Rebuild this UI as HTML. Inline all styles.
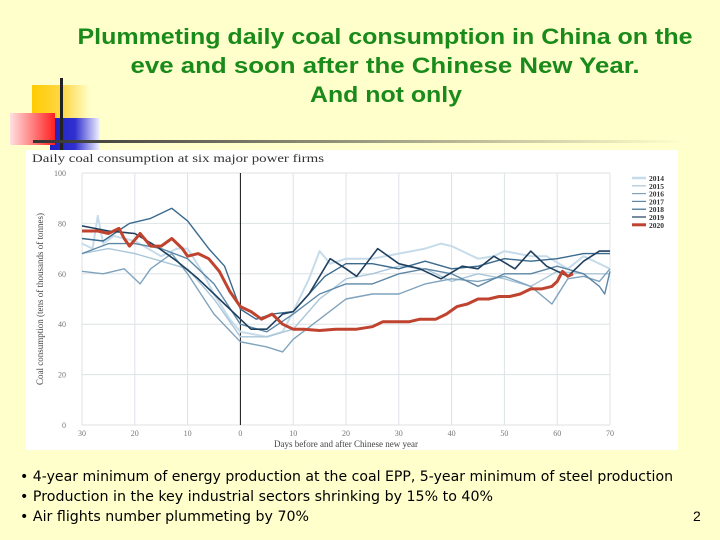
<!DOCTYPE html>
<html><head><meta charset="utf-8"><style>
html,body{margin:0;padding:0;background:#ffffcc;}
svg{display:block;font-family:"Liberation Sans",sans-serif;}
</style></head><body>
<svg id="slide" width="720" height="540" viewBox="0 0 720 540" xmlns="http://www.w3.org/2000/svg">
<defs>
<linearGradient id="gy" x1="0" x2="1"><stop offset="0" stop-color="#ffcc00"/><stop offset="0.55" stop-color="#ffd84a"/><stop offset="1" stop-color="#ffffcc"/></linearGradient>
<linearGradient id="gr" x1="0" x2="1"><stop offset="0" stop-color="#ffe0e0"/><stop offset="1" stop-color="#ff2020"/></linearGradient>
<linearGradient id="gb" x1="0" x2="1"><stop offset="0" stop-color="#2020c0"/><stop offset="0.5" stop-color="#3030d0"/><stop offset="1" stop-color="#f4f4ff"/></linearGradient>
<linearGradient id="gl" x1="0" x2="1"><stop offset="0" stop-color="#333"/><stop offset="1" stop-color="#ffffcc"/></linearGradient>
</defs>
<rect width="720" height="540" fill="#ffffcc"/>
<g fill="#1a8a1a" font-weight="bold" font-size="22" font-family="'Liberation Sans','DejaVu Sans',sans-serif" text-anchor="middle">
<text x="385" y="44" textLength="615" lengthAdjust="spacingAndGlyphs">Plummeting daily coal consumption in China on the</text>
<text x="385" y="73" textLength="509" lengthAdjust="spacingAndGlyphs">eve and soon after the Chinese New Year.</text>
<text x="386" y="102" textLength="152" lengthAdjust="spacingAndGlyphs">And not only</text>
</g>
<g>
<rect x="32" y="85" width="58" height="55" fill="url(#gy)"/>
<rect x="50" y="118" width="50" height="32" fill="url(#gb)"/>
<rect x="10" y="113" width="45" height="32" fill="url(#gr)"/>
<rect x="60" y="78" width="3" height="75" fill="#222"/>
<rect x="33" y="140" width="652" height="3" fill="url(#gl)"/>
</g>
<g id="chart">
<rect x="26" y="150" width="652" height="300" fill="#ffffff"/>
<text x="32" y="162" font-family="'Liberation Serif',serif" font-size="12" fill="#333" textLength="292" lengthAdjust="spacingAndGlyphs">Daily coal consumption at six major power firms</text>
<text transform="translate(43,299) rotate(-90)" text-anchor="middle" font-family="'Liberation Serif',serif" font-size="9" fill="#444">Coal consumption (tens of thousands of tonnes)</text>
<text x="346" y="447" text-anchor="middle" font-family="'Liberation Serif',serif" font-size="9" fill="#444">Days before and after Chinese new year</text>
<g id="grid"></g>
<g id="series"></g>
<g id="legend"></g>
</g>
<g font-family="'DejaVu Sans',sans-serif" font-size="14.5" fill="#000">
<text x="20" y="481" textLength="653" lengthAdjust="spacingAndGlyphs">• 4-year minimum of energy production at the coal EPP, 5-year minimum of steel production</text>
<text x="20" y="501" textLength="473" lengthAdjust="spacingAndGlyphs">• Production in the key industrial sectors shrinking by 15% to 40%</text>
<text x="20" y="521" textLength="289" lengthAdjust="spacingAndGlyphs">• Air flights number plummeting by 70%</text>
</g>
<text x="693" y="521" font-size="14" fill="#000">2</text>
</svg>
<script>
const xTicks=[-30,-20,-10,0,10,20,30,40,50,60,70];
const xTickLabels=['30','20','10','0','10','20','30','40','50','60','70'];
const yTicks=[0,20,40,60,80,100];
const years=['2014','2015','2016','2017','2018','2019','2020'];
const colors=['#c6dcea','#a9c6da','#7fa3bd','#5d87a6','#3a6a8e','#1e3f5e','#c0432f'];
const widths=[2,1.4,1.4,1.4,1.4,1.6,3];
const d2014=[[-30,72],[-28,70],[-27,83],[-26,72],[-24,75],[-20,73],[-15,67],[-12,70],[-10,70],[-7,60],[-5,52],[-2,42],[0,37],[5,35],[8,37],[10,45],[13,58],[15,69],[17,64],[20,66],[25,66],[30,68],[35,70],[38,72],[40,71],[42,69],[45,66],[48,67],[50,69],[55,67],[58,67],[62,62],[65,67],[68,64],[70,62]];
const d2015=[[-30,68],[-25,70],[-20,68],[-15,65],[-10,62],[-5,50],[0,35],[5,35],[10,38],[15,50],[20,58],[25,60],[30,63],[35,62],[40,57],[45,60],[50,58],[55,55],[60,61],[65,60],[70,60]];
const d2016=[[-30,61],[-26,60],[-22,62],[-19,56],[-17,62],[-13,68],[-10,60],[-5,44],[0,33],[5,31],[8,29],[10,34],[15,42],[20,50],[25,52],[30,52],[35,56],[40,58],[45,57],[50,59],[55,55],[59,48],[62,58],[65,59],[68,57],[70,62]];
const d2017=[[-30,68],[-25,72],[-20,72],[-15,70],[-10,66],[-5,56],[0,40],[5,37],[10,44],[15,52],[20,56],[25,56],[30,60],[35,62],[40,60],[45,55],[50,60],[55,60],[60,63],[65,60],[68,55],[69,52],[70,61]];
const d2018=[[-30,74],[-26,73],[-21,80],[-17,82],[-13,86],[-10,81],[-6,70],[-3,63],[0,46],[3,42],[6,44],[10,45],[13,52],[16,59],[20,64],[25,64],[30,62],[35,65],[40,62],[45,63],[50,66],[55,65],[60,66],[65,68],[70,68]];
const d2019=[[-30,79],[-25,77],[-20,76],[-16,71],[-12,65],[-8,58],[-4,50],[0,42],[2,38],[5,38],[8,44],[10,45],[13,52],[17,66],[20,62],[22,59],[26,70],[30,64],[34,62],[38,58],[42,63],[45,62],[48,67],[52,62],[55,69],[58,63],[62,59],[65,65],[68,69],[70,69]];
const d2020=[[-30,77],[-27,77],[-25,76],[-23,78],[-22,74],[-21,71],[-19,76],[-17,71],[-15,71],[-13,74],[-11,70],[-10,67],[-8,68],[-6,66],[-4,61],[-2,53],[0,47],[2,45],[4,42],[5,43],[6,44],[8,40],[10,38],[12,38],[15,37.5],[18,38],[20,38],[22,38],[25,39],[27,41],[30,41],[32,41],[34,42],[37,42],[39,44],[41,47],[43,48],[45,50],[47,50],[49,51],[51,51],[53,52],[55,54],[57,54],[59,55],[60,57],[61,61],[62,59],[63,60]];
const allSeries=[d2014,d2015,d2016,d2017,d2018,d2019,d2020];

const NS='http://www.w3.org/2000/svg';
const X0=82,X1=610,Y0=425,Y1=173;
function xs(v){return X0+(v+30)/100*(X1-X0);}
function ys(v){return Y0-v/100*(Y0-Y1);}
function mk(tag,attrs,parent){const e=document.createElementNS(NS,tag);for(const k in attrs)e.setAttribute(k,attrs[k]);parent.appendChild(e);return e;}
const grid=document.getElementById('grid');
yTicks.forEach(t=>{
  const l=mk('line',{x1:X0,x2:X1,y1:ys(t),y2:ys(t),stroke:'#dde2e6','stroke-width':1},grid);
  
  
  const tx=mk('text',{x:66,y:ys(t)+3,'text-anchor':'end','font-size':8,fill:'#777','font-family':"'Liberation Serif',serif"},grid);
  tx.textContent=t;
  
  
});
xTicks.forEach((t,i)=>{
  const l=mk('line',{x1:xs(t),x2:xs(t),y1:Y1,y2:Y0,stroke:t===0?'#111':'#dde2e6','stroke-width':1},grid);
  
  
  const tx=mk('text',{x:xs(t),y:436,'text-anchor':'middle','font-size':8,fill:'#777','font-family':"'Liberation Serif',serif"},grid);
  tx.textContent=xTickLabels[i];
  
  
});
const sg=document.getElementById('series');
allSeries.forEach((s,i)=>{
  const d=s.map((p,j)=>(j?'L':'M')+xs(p[0]).toFixed(1)+','+ys(p[1]).toFixed(1)).join('');
  const p=mk('path',{d:d,fill:'none',stroke:colors[i],'stroke-width':widths[i],'stroke-linejoin':'round'},sg);
  
  
});
const lg=document.getElementById('legend');
years.forEach((y,i)=>{
  const yy=178+i*7.8;
  const l=mk('line',{x1:632,x2:646,y1:yy,y2:yy,stroke:colors[i],'stroke-width':i===6?3:(i===0?2.5:1.2)},lg);
  
  
  const t=mk('text',{x:649,y:yy+3,'font-size':7.5,'font-weight':'bold',fill:'#333','font-family':"'Liberation Serif',serif"},lg);
  t.textContent=y;
  
  
});
</script>
</body></html>
